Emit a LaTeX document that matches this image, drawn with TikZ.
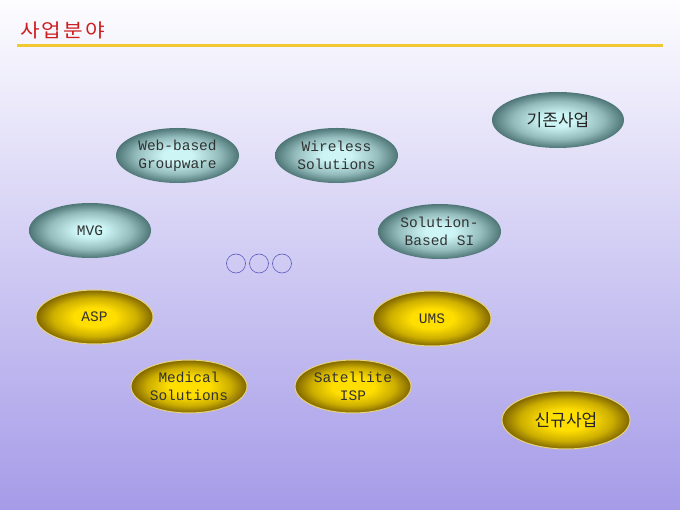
\documentclass[tikz,border=0pt]{standalone}
\usepackage{fontspec}
\usetikzlibrary{shapes.geometric}
\newfontfamily\kor{Noto Sans CJK KR}
\newfontfamily\kortitle[LetterSpace=10]{Noto Sans CJK KR}
\newfontfamily\lat{Liberation Mono}
\definecolor{tealin}{RGB}{205,245,245}
\definecolor{tealout}{RGB}{78,118,118}
\definecolor{goldin}{RGB}{255,222,0}
\definecolor{goldout}{RGB}{128,102,0}
\definecolor{goldedge}{RGB}{232,212,120}
\definecolor{bgtop}{RGB}{253,253,255}
\definecolor{bgbot}{RGB}{165,155,232}
\definecolor{titlered}{RGB}{205,30,30}
\definecolor{lineyellow}{RGB}{242,200,48}
\definecolor{ringblue}{RGB}{90,90,190}
\definecolor{txt}{RGB}{50,50,50}
\colorlet{tealmid}{tealin!55!tealout}
\colorlet{goldmid}{goldin!60!goldout}
\pgfdeclareradialshading{tealshade}{\pgfpoint{0bp}{0bp}}{color(0bp)=(tealin); color(6bp)=(tealin); color(17bp)=(tealmid); color(25bp)=(tealout); color(50bp)=(tealout)}
\pgfdeclareradialshading{goldshade}{\pgfpoint{0bp}{0bp}}{color(0bp)=(goldin); color(9bp)=(goldin); color(18bp)=(goldmid); color(25bp)=(goldout); color(50bp)=(goldout)}
\pgfdeclareverticalshading{bgshade}{100bp}{color(0bp)=(bgbot); color(25bp)=(bgbot); color(75bp)=(bgtop); color(100bp)=(bgtop)}
\tikzset{
  ell/.style={ellipse, inner sep=0pt, text=txt, align=center},
  tealell/.style={ell, shading=tealshade},
  goldell/.style={ell, shading=goldshade, draw=goldedge, line width=1pt},
  latxt/.style={font=\lat\fontsize{14.5}{18}\selectfont},
  kotxt/.style={font=\kor\fontsize{17}{20}\selectfont, text=black!85},
  ring/.style={circle, draw=ringblue, line width=0.6pt, minimum size=19pt, inner sep=0pt},
}
\begin{document}
\begin{tikzpicture}[x=1pt,y=-1pt]
\useasboundingbox (0,0) rectangle (680,510);
\shade[shading=bgshade] (0,0) rectangle (680,510);
\node[anchor=west, inner sep=0pt, xscale=1.12, transform shape, font=\kortitle\fontsize{19}{22}\selectfont, text=titlered] (title) at (20,30) {사업분야};
\coordinate (la) at (17,45.5);
\coordinate (lb) at (663,45.5);
\draw[lineyellow, line width=3pt] (la) -- (lb);
\node[tealell, latxt, minimum width=123pt, minimum height=55pt] (web) at (177.5,155.5) {Web-based\\Groupware};
\node[tealell, latxt, minimum width=123pt, minimum height=55pt] (wir) at (336.5,155.5) {Wireless\\Solutions};
\node[tealell, latxt, minimum width=122pt, minimum height=55pt] (mvg) at (90,230.5) {MVG};
\node[tealell, latxt, minimum width=123pt, minimum height=55pt] (sbs) at (439.5,231.5) {Solution-\\Based SI};
\node[tealell, kotxt, minimum width=132pt, minimum height=56pt] (gj) at (558,120) {기존사업};
\node[goldell, latxt, minimum width=117pt, minimum height=54pt] (asp) at (94.5,317) {ASP};
\node[goldell, latxt, minimum width=118pt, minimum height=55pt] (ums) at (432,318.5) {UMS};
\node[goldell, latxt, minimum width=116pt, minimum height=53pt] (med) at (189,386.5) {Medical\\Solutions};
\node[goldell, latxt, minimum width=116pt, minimum height=53pt] (sat) at (353,386.5) {Satellite\\ISP};
\node[goldell, kotxt, minimum width=128pt, minimum height=58pt] (sg) at (566,420) {신규사업};
\node[ring] (r1) at (236,263.5) {};
\node[ring] (r2) at (259,263.5) {};
\node[ring] (r3) at (282,263.5) {};
\end{tikzpicture}
\end{document}
